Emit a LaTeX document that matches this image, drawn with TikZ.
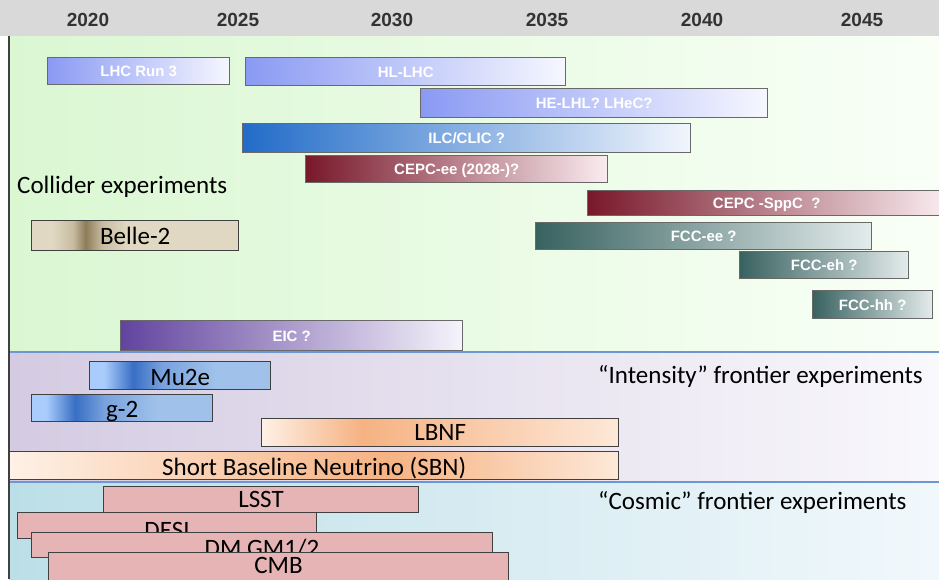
\documentclass[tikz,border=0pt]{standalone}
\usepackage{fontspec}
\setmainfont{Carlito}
\newfontfamily\boldsans{Liberation Sans}

\definecolor{yearBand}{RGB}{217,217,217}
\definecolor{yearText}{RGB}{51,51,51}
\definecolor{colliderLeft}{RGB}{218,247,210}
\definecolor{colliderRight}{RGB}{249,255,247}
\definecolor{intensityLeft}{RGB}{212,203,226}
\definecolor{intensityRight}{RGB}{249,248,252}
\definecolor{cosmicLeft}{RGB}{188,223,231}
\definecolor{cosmicRight}{RGB}{241,248,252}
\definecolor{panelLine}{RGB}{110,150,210}
\definecolor{barEdge}{RGB}{105,105,105}
\definecolor{darkEdge}{RGB}{64,64,64}
\definecolor{lhcLeft}{RGB}{138,154,243}
\definecolor{lhcRight}{RGB}{246,247,255}
\definecolor{ilcLeft}{RGB}{34,108,200}
\definecolor{ilcRight}{RGB}{242,246,253}
\definecolor{cepcLeft}{RGB}{120,24,42}
\definecolor{cepcRight}{RGB}{250,236,240}
\definecolor{fccLeft}{RGB}{56,98,96}
\definecolor{fccRight}{RGB}{228,236,236}
\definecolor{eicLeft}{RGB}{98,68,158}
\definecolor{eicRight}{RGB}{246,244,251}
\definecolor{belleLight}{RGB}{224,216,194}
\definecolor{belleMid}{RGB}{200,188,160}
\definecolor{belleDark}{RGB}{140,124,88}
\definecolor{muLight}{RGB}{170,204,252}
\definecolor{muDark}{RGB}{56,110,196}
\definecolor{muMid}{RGB}{120,162,222}
\definecolor{muRight}{RGB}{160,194,234}
\definecolor{nuLight}{RGB}{254,241,230}
\definecolor{nuPeak}{RGB}{246,178,130}
\definecolor{nuRight}{RGB}{253,232,216}
\definecolor{cosmicBar}{RGB}{230,180,180}

\pgfdeclarehorizontalshading{belleShade}{100bp}{color(0bp)=(belleLight); color(25bp)=(belleLight); color(30bp)=(belleLight); color(35bp)=(belleMid); color(38bp)=(belleDark); color(42bp)=(belleMid); color(48bp)=(belleLight); color(75bp)=(belleLight); color(100bp)=(belleLight)}
\pgfdeclarehorizontalshading{muShade}{100bp}{color(0bp)=(muLight); color(25bp)=(muLight); color(29bp)=(muLight); color(37bp)=(muDark); color(45bp)=(muMid); color(60bp)=(muRight); color(75bp)=(muRight); color(100bp)=(muRight)}
\pgfdeclarehorizontalshading{lbnfShade}{100bp}{color(0bp)=(nuLight); color(25bp)=(nuLight); color(39bp)=(nuPeak); color(75bp)=(nuRight); color(100bp)=(nuRight)}
\pgfdeclarehorizontalshading{sbnShade}{100bp}{color(0bp)=(nuLight); color(25bp)=(nuLight); color(56bp)=(nuPeak); color(75bp)=(nuRight); color(100bp)=(nuRight)}

\begin{document}
\begin{tikzpicture}[x = 1pt, y = -1pt]
	\tikzstyle{barStyle} = [draw = barEdge, line width = 1.4pt, inner sep = 0pt, anchor = north west]
	\tikzstyle{whiteTextStyle} = [text = white, font = \boldsans\bfseries\fontsize{15}{17}\selectfont, text height = 11pt, text depth = 0pt]
	\tikzstyle{blackTextStyle} = [text = black, font = \fontsize{25}{29}\selectfont, text depth = 0pt]
	\tikzstyle{cosmicStyle} = [barStyle, blackTextStyle, fill = cosmicBar, draw = darkEdge, line width = 1pt]
	\tikzstyle{yearStyle} = [text = yearText, font = \boldsans\bfseries\fontsize{19}{22}\selectfont]
	\tikzstyle{sectionStyle} = [blackTextStyle, anchor = base west, inner sep = 0pt]
	\useasboundingbox (0,0) rectangle (939,579);
	\clip (0,0) rectangle (939,579);
	% panels
	\fill[yearBand] (0,0) rectangle (939,36);
	\shade[left color = colliderLeft, right color = colliderRight] (9,36) rectangle (939,352);
	\shade[left color = intensityLeft, right color = intensityRight] (9,352) rectangle (939,482);
	\shade[left color = cosmicLeft, right color = cosmicRight] (9,482) rectangle (939,579);
	\draw[panelLine, line width = 1.2pt] (9,352) -- (939,352);
	\draw[panelLine, line width = 1.2pt] (9,482) -- (939,482);
	\draw[darkEdge, line width = 1.5pt] (9,36) -- (9,579);
	% years
	\node[yearStyle] (y2020) at (88,20) {2020};
	\node[yearStyle] (y2025) at (238,20) {2025};
	\node[yearStyle] (y2030) at (392,20) {2030};
	\node[yearStyle] (y2035) at (547,20) {2035};
	\node[yearStyle] (y2040) at (702,20) {2040};
	\node[yearStyle] (y2045) at (862,20) {2045};
	% collider
	\node[barStyle, whiteTextStyle, left color = lhcLeft, right color = lhcRight, minimum width = 182pt, minimum height = 27pt] (lhcRun) at (47,57) {LHC Run 3};
	\node[barStyle, whiteTextStyle, left color = lhcLeft, right color = lhcRight, minimum width = 320pt, minimum height = 28pt] (hlLhc) at (245,57) {HL-LHC};
	\node[barStyle, whiteTextStyle, left color = lhcLeft, right color = lhcRight, minimum width = 347pt, minimum height = 29pt] (heLhc) at (420,88) {HE-LHL? LHeC?};
	\node[barStyle, whiteTextStyle, left color = ilcLeft, right color = ilcRight, minimum width = 448pt, minimum height = 29pt] (ilcClic) at (242,123) {ILC/CLIC ?};
	\node[barStyle, whiteTextStyle, left color = cepcLeft, right color = cepcRight, minimum width = 302pt, minimum height = 27pt] (cepcEe) at (305,155) {CEPC-ee (2028-)?};
	\node[barStyle, whiteTextStyle, left color = cepcLeft, right color = cepcRight, minimum width = 358pt, minimum height = 25pt] (cepcSppc) at (587,190) {CEPC -SppC\ \ ?};
	\node[barStyle, whiteTextStyle, left color = fccLeft, right color = fccRight, minimum width = 336pt, minimum height = 27pt] (fccEe) at (535,222) {FCC-ee ?};
	\node[barStyle, whiteTextStyle, left color = fccLeft, right color = fccRight, minimum width = 169pt, minimum height = 27pt] (fccEh) at (739,251) {FCC-eh ?};
	\node[barStyle, whiteTextStyle, left color = fccLeft, right color = fccRight, minimum width = 120pt, minimum height = 28pt] (fccHh) at (812,290) {FCC-hh ?};
	\node[barStyle, whiteTextStyle, left color = eicLeft, right color = eicRight, minimum width = 342pt, minimum height = 30pt] (eic) at (120,320) {EIC ?};
	\node[barStyle, blackTextStyle, shade, shading = belleShade, draw = darkEdge, minimum width = 207pt, minimum height = 30pt, text height = 18pt] (belle) at (31,220) {Belle-2};
	\node[sectionStyle] (colliderLabel) at (17,193) {Collider experiments};
	% intensity
	\node[barStyle, blackTextStyle, shade, shading = muShade, draw = darkEdge, minimum width = 181pt, minimum height = 28pt, text height = 20pt] (muTwoE) at (89,361) {Mu2e};
	\node[barStyle, blackTextStyle, shade, shading = muShade, draw = darkEdge, minimum width = 181pt, minimum height = 27pt, text height = 19pt] (gMinusTwo) at (31,394) {g-2};
	\node[barStyle, blackTextStyle, shade, shading = lbnfShade, draw = darkEdge, minimum width = 357pt, minimum height = 28pt, text height = 16pt] (lbnf) at (261,418) {LBNF};
	\node[barStyle, blackTextStyle, shade, shading = sbnShade, draw = darkEdge, minimum width = 609pt, minimum height = 28pt, text height = 20pt] (sbn) at (9,451) {Short Baseline Neutrino (SBN)};
	\node[sectionStyle] (intensityLabel) at (598,383) {“Intensity” frontier experiments};
	% cosmic
	\node[cosmicStyle, minimum width = 315pt, minimum height = 26pt, text height = 16pt] (lsst) at (103,486) {LSST};
	\node[cosmicStyle, minimum width = 299pt, minimum height = 24pt, text height = 26pt] (desi) at (17,512) {DESI};
	\node[cosmicStyle, minimum width = 461pt, minimum height = 25pt, text height = 23pt] (dmGm) at (31,532) {DM GM1/2};
	\node[cosmicStyle, minimum width = 460pt, minimum height = 30pt, text height = 12pt] (cmb) at (48,552) {CMB};
	\node[sectionStyle] (cosmicLabel) at (598,509) {“Cosmic” frontier experiments};
\end{tikzpicture}
\end{document}
